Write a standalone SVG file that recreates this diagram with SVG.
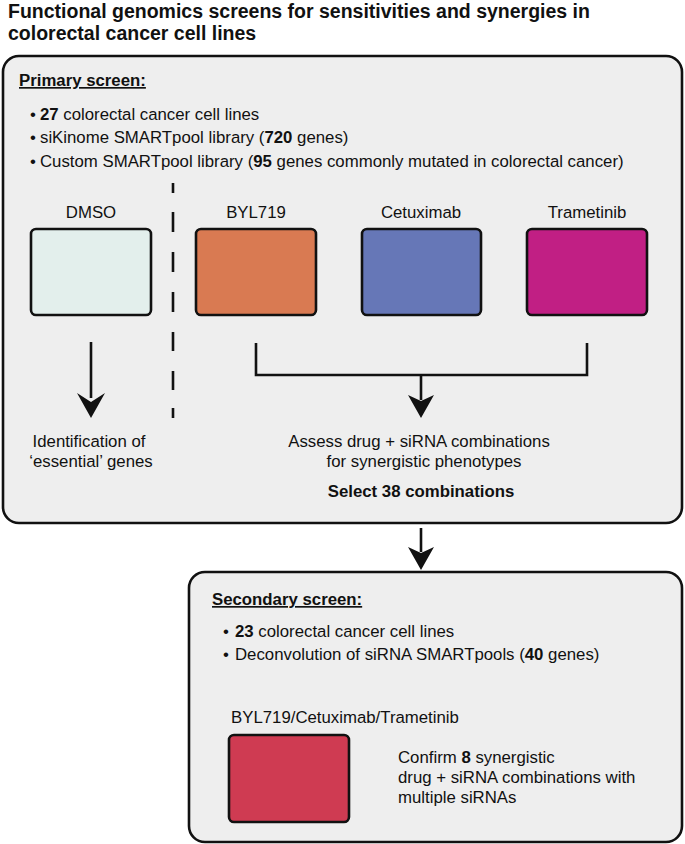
<svg xmlns="http://www.w3.org/2000/svg" width="685" height="844" viewBox="0 0 685 844">
<defs>
<style>
text{font-family:"Liberation Sans",Arial,sans-serif;fill:#111;}
.t{font-size:19.5px;font-weight:bold;}
.h{font-size:16.8px;font-weight:bold;text-decoration:underline;}
.b{font-size:16.8px;}
.c{font-size:16.8px;text-anchor:middle;}
.bold{font-weight:bold;}
.panel{fill:#eeeeee;stroke:#111;stroke-width:2.6;}
.sw{stroke:#111;stroke-width:2.6;}
.ln{fill:none;stroke:#111;stroke-width:2.6;}
.ah{fill:#111;stroke:none;}
</style>
</defs>
<rect width="685" height="844" fill="#ffffff"/>
<g id="title">
<text class="t" x="8" y="18">Functional genomics screens for sensitivities and synergies in</text>
<text class="t" x="8" y="40">colorectal cancer cell lines</text>
</g>
<g id="primary">
<rect class="panel" x="3" y="56" width="679" height="467" rx="16"/>
<text class="h" x="19" y="86">Primary screen:</text>
<text class="b" x="30" y="120">•</text><text class="b" x="40" y="120"><tspan class="bold">27</tspan> colorectal cancer cell lines</text>
<text class="b" x="30" y="143">•</text><text class="b" x="40" y="143">siKinome SMARTpool library (<tspan class="bold">720</tspan> genes)</text>
<text class="b" x="30" y="167">•</text><text class="b" x="40" y="167">Custom SMARTpool library (<tspan class="bold">95</tspan> genes commonly mutated in colorectal cancer)</text>
</g>
<g id="dmso">
<text class="c" x="91" y="218">DMSO</text>
<rect class="sw" x="31" y="229" width="120" height="86" rx="5" fill="#e3efec"/>
</g>
<g id="byl719">
<text class="c" x="256" y="218">BYL719</text>
<rect class="sw" x="196" y="229" width="120" height="86" rx="5" fill="#d97a52"/>
</g>
<g id="cetuximab">
<text class="c" x="421" y="218">Cetuximab</text>
<rect class="sw" x="362" y="229" width="119" height="86" rx="5" fill="#6677b7"/>
</g>
<g id="trametinib">
<text class="c" x="587" y="218">Trametinib</text>
<rect class="sw" x="527" y="229" width="120" height="86" rx="5" fill="#c11f84"/>
</g>
<g id="essential">
<text class="c" x="89" y="447">Identification of</text>
<text class="c" x="91" y="467">‘essential’ genes</text>
</g>
<g id="assess">
<text class="c" x="419" y="447">Assess drug + siRNA combinations</text>
<text class="c" x="424" y="467">for synergistic phenotypes</text>
<text class="c bold" x="421" y="497">Select 38 combinations</text>
</g>
<g id="secondary">
<rect class="panel" x="189" y="572" width="493" height="270" rx="16"/>
<text class="h" x="212" y="605">Secondary screen:</text>
<text class="b" x="223" y="637">•</text><text class="b" x="235" y="637"><tspan class="bold">23</tspan> colorectal cancer cell lines</text>
<text class="b" x="223" y="660">•</text><text class="b" x="235" y="660">Deconvolution of siRNA SMARTpools (<tspan class="bold">40</tspan> genes)</text>
</g>
<g id="combo">
<text class="b" x="231" y="723">BYL719/Cetuximab/Trametinib</text>
<rect class="sw" x="229" y="735" width="120" height="87" rx="5" fill="#cf3b52"/>
</g>
<g id="confirm">
<text class="b" x="398" y="763">Confirm <tspan class="bold">8</tspan> synergistic</text>
<text class="b" x="398" y="783">drug + siRNA combinations with</text>
<text class="b" x="398" y="803">multiple siRNAs</text>
</g>
<g id="connectors">
<path class="ln" stroke-width="3" d="M173 183V193M173 212V232M173 252V272M173 292V312M173 332V351M173 371V390M173 408V418"/>
<path class="ln" d="M91 342V398"/>
<path class="ah" d="M91 418L77 393L91 402L105 393Z"/>
<path class="ln" d="M256 343V375H587V343M421 375V400"/>
<path class="ah" d="M421 418L408 395L421 401L434 395Z"/>
<path class="ln" d="M421 528V552"/>
<path class="ah" d="M421 570L408 547L421 553L434 547Z"/>
</g>
</svg>
